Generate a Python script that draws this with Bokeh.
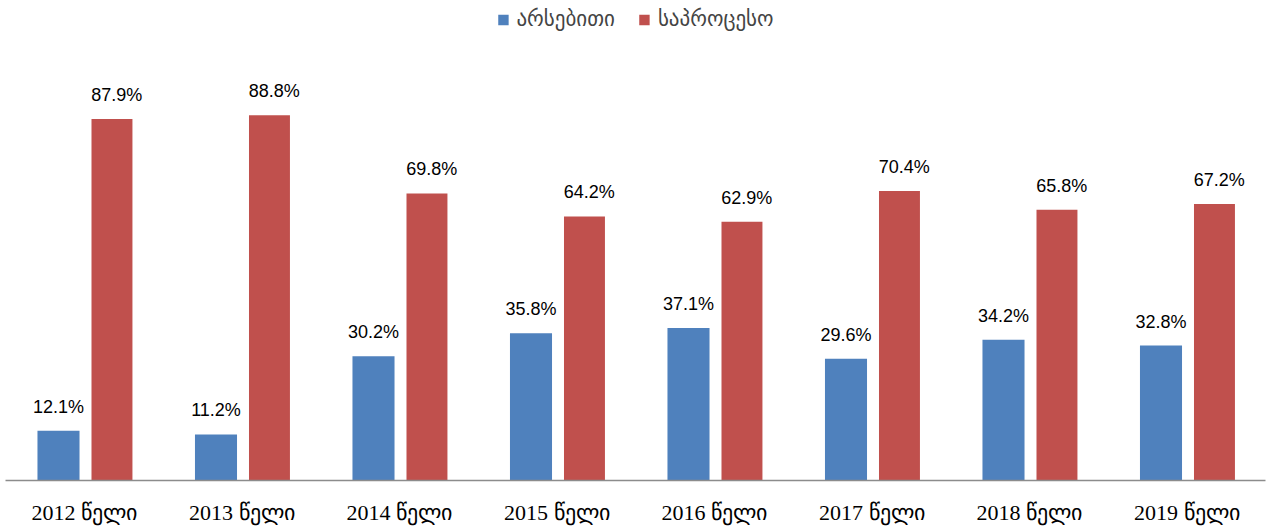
from bokeh.plotting import figure
from bokeh.models import ColumnDataSource, Legend, LegendItem, Range1d
from bokeh.transform import dodge
from bokeh.core.properties import value
from bokeh.embed import file_html
from bokeh.resources import INLINE

categories = ["2012 წელი", "2013 წელი", "2014 წელი", "2015 წელი",
              "2016 წელი", "2017 წელი", "2018 წელი", "2019 წელი"]
substantive = [12.1, 11.2, 30.2, 35.8, 37.1, 29.6, 34.2, 32.8]
procedural = [87.9, 88.8, 69.8, 64.2, 62.9, 70.4, 65.8, 67.2]
series_names = ["არსებითი", "საპროცესო"]

src = ColumnDataSource(dict(
    cat=categories,
    a=substantive,
    b=procedural,
    a_lbl=[f"{v:.1f}%" for v in substantive],
    b_lbl=[f"{v:.1f}%" for v in procedural],
))

p = figure(x_range=categories, y_range=Range1d(0, 116.7), width=1270, height=527,
           output_backend="svg", toolbar_location=None,
           min_border_left=5, min_border_right=5, min_border_top=0, min_border_bottom=0)
p.outline_line_color = None
p.xgrid.visible = False
p.ygrid.visible = False
p.yaxis.visible = False
p.x_range.range_padding = 0

BLUE = "#4F81BD"
RED = "#C0504D"

r1 = p.vbar(x=dodge("cat", -0.1635, range=p.x_range), top="a", width=0.267, source=src,
            fill_color=BLUE, line_color=None)
r2 = p.vbar(x=dodge("cat", 0.176, range=p.x_range), top="b", width=0.26, source=src,
            fill_color=RED, line_color=None)

p.text(x=dodge("cat", -0.1635, range=p.x_range), y="a", text="a_lbl", source=src,
       text_align="center", text_baseline="bottom", y_offset=-14,
       text_font=value("Liberation Sans"), text_font_size="18px", text_color="#000000")
p.text(x=dodge("cat", 0.206, range=p.x_range), y="b", text="b_lbl", source=src,
       text_align="center", text_baseline="bottom", y_offset=-14,
       text_font=value("Liberation Sans"), text_font_size="18px", text_color="#000000")

ax = p.xaxis[0]
ax.axis_line_color = "#8c8c8c"
ax.axis_line_width = 1.5
ax.major_tick_line_color = None
ax.minor_tick_line_color = None
ax.major_label_text_font = "Liberation Serif"
ax.major_label_text_font_size = "22px"
ax.major_label_text_color = "#000000"
ax.major_label_standoff = 13

legend = Legend(items=[LegendItem(label=series_names[0], renderers=[r1]),
                       LegendItem(label=series_names[1], renderers=[r2])],
                orientation="horizontal", location="top_center",
                label_text_font="DejaVu Sans", label_text_font_size="21px",
                glyph_width=13, glyph_height=13, spacing=23, padding=0, margin=7,
                border_line_color=None, background_fill_alpha=0,
                label_standoff=7)
p.add_layout(legend, "center")

open("out.html", "w").write(file_html(p, INLINE))
